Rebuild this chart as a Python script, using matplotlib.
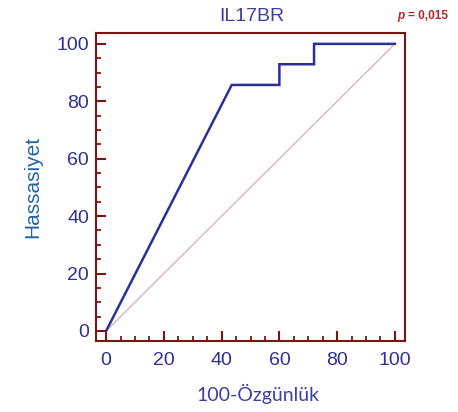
import numpy as np
import matplotlib.pyplot as plt
from matplotlib.ticker import MultipleLocator

# ROC curve for IL17BR (100-specificity vs sensitivity)
fpr = [0, 43.5, 60, 60, 72, 72, 100]
tpr = [0, 85.7, 85.7, 92.9, 92.9, 100, 100]
ref = [0, 100]
title = "IL17BR"
pval = "= 0,015"

RED = "#7b1515"
BLUE = "#2e3192"

fig = plt.figure(figsize=(4.58, 4.12), dpi=100)
ax = fig.add_axes([0.2096, 0.1723, 0.6747, 0.7477])
ax.plot(ref, ref, color="#dcb4b4", lw=1.0, zorder=2)
ax.plot(fpr, tpr, color="#2b2f9a", lw=1.8, zorder=3, solid_joinstyle="miter")
ax.set_xlim(-3.5, 103.5)
ax.set_ylim(-3.5, 103.8)
ax.xaxis.set_major_locator(MultipleLocator(20))
ax.yaxis.set_major_locator(MultipleLocator(20))
ax.xaxis.set_minor_locator(MultipleLocator(5))
ax.yaxis.set_minor_locator(MultipleLocator(5))
for s in ax.spines.values():
    s.set_color(RED); s.set_linewidth(1.5)
ax.tick_params(which="major", direction="in", length=7.2, width=1.5, color=RED,
               labelcolor=BLUE, labelsize=14)
ax.tick_params(axis="x", which="major", pad=8)
ax.tick_params(axis="y", which="major", pad=5)
ax.tick_params(which="minor", direction="in", length=3.6, width=1.3, color=RED)
for lab in ax.get_xticklabels() + ax.get_yticklabels():
    lab.set_family("Liberation Sans")
ax.set_xlabel("100-Özgünlük", color="#3b3fa0", fontsize=14, family="Lato")
ax.xaxis.set_label_coords(0.525, -0.14)
ax.set_ylabel("Hassasiyet", color="#1f63a8", fontsize=15, family="Liberation Sans", labelpad=10)
fig.text(0.55, 0.961, title, ha="center", va="center", color="#3b3fa0",
         fontsize=14, family="Liberation Sans")
t = fig.text(0.978, 0.961, pval, ha="right", va="center",
             color="#b0262a", fontsize=8.5, family="Liberation Sans", fontweight="bold")
r = fig.canvas.get_renderer()
bb = t.get_window_extent(r)
fig.text((bb.x0 - 4) / fig.bbox.width, 0.961, "p", ha="right", va="center",
         color="#b0262a", fontsize=8.5, family="Liberation Sans",
         fontweight="bold", fontstyle="italic")
fig.savefig("out.png", dpi=100)
